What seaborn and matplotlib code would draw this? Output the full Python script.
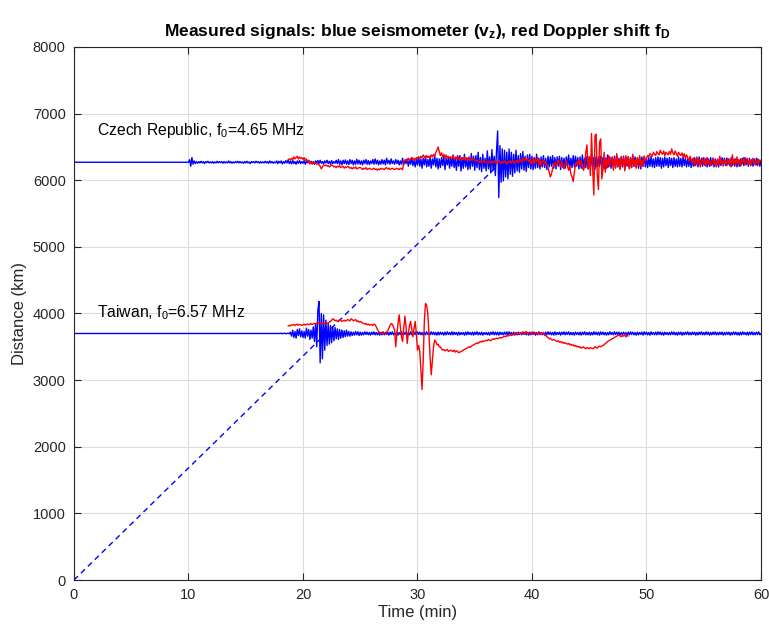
# Measured signals: seismometer (blue) and Doppler shift (red) at two stations
import numpy as np
import pandas as pd
import matplotlib
matplotlib.use("Agg")
import matplotlib.pyplot as plt
import seaborn as sns

# Station distances (km) where the traces are drawn
czech_dist = 6270
taiwan_dist = 3700

# Labels
czech_label = "Czech Republic, f$_0$=4.65 MHz"
taiwan_label = "Taiwan, f$_0$=6.57 MHz"
title = "Measured signals: blue seismometer (v$_z$), red Doppler shift f$_D$"

# Dashed propagation line (time in min, distance in km)
wave_t = [0.0, 37.0]
wave_d = [0, 6220]

# Blue seismometer, Czech Republic: offsets (km) every 0.1 min from 10.0 to 60.0
blue_czech_start = 10.0
blue_czech = [
    0, 40, -60, 70, -30, 20, -20, 10, -15, 10,          # 10
    -10, 15, -10, 10, -20, 10, -5, 15, -10, 5,          # 11
    -10, 10, -15, 5, -10, 15, -10, 10, -5, 10,          # 12
    -15, 10, -10, 5, -10, 20, -10, 10, -15, 5,          # 13
    -10, 10, -5, 15, -10, 10, -10, 5, -15, 10,          # 14
    -10, 15, -10, 5, -20, 10, -5, 10, -10, 15,          # 15
    -5, 10, -15, 10, -10, 5, -10, 15, -10, 10,          # 16
    -15, 20, -10, 10, -15, 5, -10, 20, -20, 15,         # 17
    -10, 20, -25, 10, -15, 25, -10, 30, -20, 15,        # 18
    -25, 30, -20, 10, -30, 20, -15, 25, -20, 10,        # 19
    -15, 25, -30, 20, -10, 30, -25, 15, -20, 10,        # 20
    -30, 20, -10, 25, -20, 30, -15, 10, -25, 20,        # 21
    -10, 30, -20, 15, -30, 25, -20, 10, -15, 30,        # 22
    -20, 40, -30, 20, -40, 30, -20, 35, -30, 20,        # 23
    -35, 40, -20, 30, -40, 20, -30, 45, -25, 30,        # 24
    -30, 20, -40, 30, -20, 40, -30, 25, -35, 20,        # 25
    -20, 40, -30, 50, -25, 30, -40, 20, -30, 40,        # 26
    -25, 30, -40, 60, -20, 30, -30, 50, -20, 20,        # 27
    -30, 40, -20, 30, -40, 20, -30, 60, -40, 30,        # 28
    -20, 50, -60, 40, -30, 70, -50, 30, -70, 40,        # 29
    -40, 80, -60, 50, -90, 60, -40, 90, -70, 40,        # 30
    -60, 80, -90, 50, -40, 100, -70, 60, -100, 50,      # 31
    -80, 70, -50, 90, -110, 60, -40, 80, -90, 70,       # 32
    -60, 110, -80, 50, -120, 90, -60, 100, -130, 70,    # 33
    -90, 120, -70, 60, -110, 80, -100, 130, -60, 90,    # 34
    -120, 100, -80, 150, -110, 70, -140, 120, -90, 60,  # 35
    -130, 170, -100, 80, -160, 190, -120, 90, -200, 160,  # 36
    470, -530, 250, -300, 200, -280, 180, -220, 150, -250,  # 37
    200, -180, 150, -210, 120, -160, 180, -130, 100, -150,  # 38
    130, -100, 160, -120, 90, -140, 110, -80, 120, -100,    # 39
    90, -110, 70, -90, 120, -80, 60, -100, 80, -70,     # 40
    100, -80, 60, -110, 90, -70, 80, -60, 100, -90,     # 41
    70, -100, 80, -60, 90, -110, 70, -80, 60, -90,      # 42
    80, -70, 110, -90, 60, -80, 100, -70, 90, -60,      # 43
    70, -100, 80, -90, 110, -70, 60, -80, 90, -100,     # 44
    80, -60, 100, -90, 70, -110, 90, -70, 80, -60,      # 45
    90, -80, 70, -100, 60, -90, 110, -70, 80, -90,      # 46
    70, -60, 90, -80, 100, -70, 60, -90, 80, -70,       # 47
    90, -100, 70, -60, 80, -90, 70, -80, 100, -60,      # 48
    80, -70, 60, -90, 70, -100, 80, -60, 90, -70,       # 49
    60, -80, 70, -60, 90, -70, 50, -80, 70, -60,        # 50
    80, -60, 70, -90, 60, -70, 80, -50, 60, -80,        # 51
    70, -50, 60, -80, 70, -60, 50, -70, 80, -60,        # 52
    60, -70, 80, -50, 60, -70, 50, -60, 70, -80,        # 53
    50, -60, 70, -50, 60, -70, 80, -50, 60, -60,        # 54
    70, -50, 60, -70, 50, -60, 70, -50, 60, -70,        # 55
    50, -60, 40, -70, 60, -50, 70, -40, 60, -50,        # 56
    60, -40, 50, -60, 70, -50, 40, -60, 50, -70,        # 57
    40, -60, 50, -40, 60, -50, 70, -40, 50, -60,        # 58
    60, -50, 40, -60, 50, -40, 60, -50, 40, -60,        # 59
    30,                                                 # 60
]

# Red Doppler shift, Czech Republic: offsets (km) every 0.1 min from 18.7 to 60.0
red_czech_start = 18.7
red_czech = [
    40, 50, 30,                                         # 18.7-18.9
    60, 40, 80, 50, 70, 90, 50, 80, 60, 70,             # 19
    40, 70, 30, 50, 10, 20, -20, 10, -30, 0,            # 20
    -20, -10, -30, -20, -40, -60, -100, -70, -40, -50,  # 21
    -40, -60, -50, -70, -60, -40, -50, -70, -60, -80,   # 22
    -60, -70, -50, -80, -70, -60, -90, -70, -80, -60,   # 23
    -70, -90, -80, -100, -80, -90, -70, -100, -90, -80,  # 24
    -80, -90, -110, -90, -100, -80, -110, -100, -90, -100,  # 25
    -110, -100, -90, -110, -100, -120, -100, -110, -90, -100,  # 26
    -100, -110, -90, -80, -100, -90, -110, -100, -90, -100,  # 27
    -110, -100, -90, -100, -110, -90, -100, -110, 10, 30,  # 28
    40, 20, 60, 30, 50, 70, 40, 60, 30, 70,             # 29
    50, 80, 60, 90, 70, 110, 80, 60, 100, 70,           # 30
    90, 60, 110, 80, 120, 90, 150, 180, 230, 160,       # 31
    100, 140, 80, 120, 60, 110, 70, 90, 50, 80,         # 32
    60, 90, 40, 80, 50, 100, 60, 30, 70, 40,            # 33
    50, 80, 30, 70, 40, 60, 20, 50, 30, 60,             # 34
    40, 20, 30, 10, 0, 20, -10, 10, 30, 0,              # 35
    -10, 10, 20, -20, 0, 10, -10, 20, 0, -20,           # 36
    10, 30, 0, -20, 10, -10, 20, 0, -30, 10,            # 37
    0, 20, -10, 30, 0, -20, 10, 30, -10, 20,            # 38
    40, 0, 60, 20, 70, 30, 50, 10, 40, -20,             # 39
    20, 60, -30, 50, 10, 70, -40, 30, -60, 20,          # 40
    30, -20, 10, -40, -80, -150, -220, -180, -90, -30,  # 41
    0, -60, -20, 40, -10, -70, 10, -40, -100, -30,      # 42
    20, -60, -120, -60, -180, -220, -290, -150, -40, 10,  # 43
    -30, 40, -60, 20, -80, -120, -50, 150, 260, -100,   # 44
    80, -200, 430, -100, -490, 400, 420, -200, -410, 300,  # 45
    350, -250, -100, 150, -150, 60, -80, 100, -60, 40,  # 46
    80, -120, 60, -90, 130, -60, 40, -110, 90, -50,     # 47
    70, -130, 100, -40, 80, -100, 60, -80, 120, -60,    # 48
    40, -90, 70, -50, 100, -70, 30, -60, 90, 20,        # 49
    60, 100, 80, 130, 110, 90, 150, 120, 100, 160,      # 50
    130, 110, 180, 140, 120, 170, 100, 150, 130, 110,   # 51
    160, 120, 200, 140, 110, 170, 130, 90, 150, 120,    # 52
    100, 140, 80, 130, 60, 110, 70, 20, 90, 40,         # 53
    -20, 60, -50, 30, 80, -40, 50, -70, 20, 60,         # 54
    -30, 40, -60, 70, -20, 30, -50, 10, 60, -40,        # 55
    20, -70, 50, -30, 90, -20, 30, -60, 40, -10,        # 56
    -50, 60, -20, 40, -70, 110, -30, 50, -40, 80,       # 57
    -20, 30, -60, 50, -10, 70, -40, 20, 60, -30,        # 58
    40, -50, 20, 60, -30, 10, -40, 50, -20, 30,         # 59
    20,                                                 # 60
]

# Blue seismometer, Taiwan: offsets (km) every 0.1 min from 18.0 to 60.0
blue_taiwan_start = 18.0
blue_taiwan = [
    0, 5, -5, 0, 5, -5, 0, 5, -5, 20,                   # 18
    -40, 50, -60, 30, -70, 60, -30, 70, -50, 40,        # 19
    -60, 30, -70, 80, -40, 60, -90, 50, -70, 100,       # 20
    -120, 150, -200, 350, 480, -440, 300, -380, 280, -250,  # 21
    200, -180, 150, -160, 120, -140, 100, -110, 90, -80,  # 22
    70, -90, 60, -70, 50, -60, 40, -50, 50, -40,        # 23
    30, -40, 25, -30, 20, -25, 30, -20, 25, -30,        # 24
    20, -25, 15, -20, 25, -15, 20, -20, 15, -25,        # 25
    20, -15, 25, -20, 15, -20, 20, -25, 15, -20,        # 26
    25, -20, 15, -15, 20, -25, 20, -15, 25, -20,        # 27
    15, -20, 20, -25, 15, -15, 25, -20, 20, -15,        # 28
    20, -25, 15, -20, 25, -20, 15, -15, 20, -25,        # 29
    25, -15, 20, -20, 15, -25, 20, -20, 25, -15,        # 30
    15, -20, 25, -15, 20, -20, 15, -25, 20, -20,        # 31
    20, -15, 15, -25, 20, -20, 25, -15, 15, -20,        # 32
    25, -20, 20, -15, 15, -25, 20, -20, 15, -15,        # 33
    15, -25, 20, -20, 25, -15, 15, -20, 20, -25,        # 34
    20, -15, 25, -20, 15, -20, 20, -25, 15, -15,        # 35
    15, -20, 15, -25, 20, -15, 25, -20, 20, -20,        # 36
    20, -25, 20, -15, 15, -20, 20, -15, 25, -20,        # 37
    25, -15, 15, -20, 20, -25, 15, -20, 20, -15,        # 38
    15, -20, 25, -15, 20, -20, 15, -25, 20, -20,        # 39
    20, -15, 20, -25, 15, -20, 25, -15, 15, -20,        # 40
    15, -25, 20, -20, 25, -15, 20, -20, 15, -25,        # 41
    25, -20, 15, -15, 20, -25, 20, -15, 25, -20,        # 42
    20, -15, 25, -20, 15, -20, 15, -25, 20, -15,        # 43
    15, -20, 20, -25, 20, -15, 25, -20, 15, -20,        # 44
    20, -25, 15, -20, 25, -15, 20, -20, 20, -25,        # 45
    25, -15, 20, -20, 15, -25, 15, -20, 25, -15,        # 46
    15, -20, 25, -15, 20, -20, 20, -25, 15, -20,        # 47
    20, -15, 15, -25, 20, -20, 25, -15, 20, -20,        # 48
    15, -25, 20, -20, 15, -15, 20, -25, 25, -15,        # 49
    20, -20, 15, -25, 25, -15, 15, -20, 20, -20,        # 50
    25, -15, 20, -20, 15, -25, 20, -15, 15, -20,        # 51
    15, -20, 25, -15, 20, -20, 15, -25, 20, -15,        # 52
    20, -25, 15, -20, 20, -15, 25, -20, 15, -20,        # 53
    20, -15, 20, -25, 15, -20, 20, -15, 25, -20,        # 54
    15, -20, 25, -15, 20, -25, 15, -20, 20, -15,        # 55
    25, -20, 15, -20, 20, -15, 20, -25, 15, -20,        # 56
    20, -15, 20, -25, 15, -20, 25, -15, 20, -20,        # 57
    15, -25, 20, -20, 25, -15, 15, -20, 20, -25,        # 58
    20, -15, 25, -20, 15, -20, 20, -15, 25, -20,        # 59
    0,                                                  # 60
]

# Red Doppler shift, Taiwan: offsets (km) every 0.1 min from 18.7 to 48.4
red_taiwan_start = 18.7
red_taiwan = [
    110, 120, 115,                                      # 18.7-18.9
    130, 125, 135, 120, 130, 140, 125, 135, 130, 120,   # 19
    130, 140, 125, 135, 145, 130, 140, 150, 135, 145,   # 20
    150, 140, 155, 145, 160, 150, 140, 155, 150, 145,   # 21
    150, 160, 155, 170, 180, 200, 220, 210, 190, 200,   # 22
    180, 190, 210, 200, 180, 190, 200, 185, 195, 210,   # 23
    200, 190, 220, 210, 190, 200, 210, 180, 190, 170,   # 24
    180, 170, 160, 150, 140, 150, 130, 140, 125, 135,   # 25
    130, 120, 140, 130, 100, 60, 30, 10, 0, 20,         # 26
    0, 10, -10, 20, 40, 80, 120, 150, 140, 100,         # 27
    50, -200, 0, 150, 280, 100, -50, -120, 80, 260,     # 28
    100, -150, 0, 120, 180, 60, -50, 80, 180, 0,        # 29
    -250, -180, -270, -550, -840, -400, 200, 450, 420, 300,  # 30
    0, -350, -620, -400, -200, -100, -120, -170, -160, -200,  # 31
    -200, -230, -250, -240, -260, -250, -240, -270, -260, -250,  # 32
    -260, -270, -250, -280, -260, -270, -290, -280, -270, -260,  # 33
    -250, -240, -230, -220, -210, -200, -210, -190, -180, -170,  # 34
    -160, -150, -140, -150, -130, -120, -130, -110, -120, -110,  # 35
    -100, -110, -90, -100, -110, -90, -80, -90, -80, -70,  # 36
    -80, -70, -60, -70, -60, -50, -40, -50, -30, -40,   # 37
    -30, -20, -30, -10, -20, 0, -10, 10, -10, 0,        # 38
    10, 0, 20, -10, 10, 30, 0, 10, -10, 10,             # 39
    0, 20, 0, 10, -10, 0, 10, -20, 0, -10,              # 40
    10, -20, -30, -50, -60, -80, -70, -90, -100, -90,   # 41
    -100, -110, -120, -110, -130, -120, -140, -130, -150, -140,  # 42
    -150, -160, -150, -170, -160, -180, -170, -190, -180, -200,  # 43
    -190, -210, -200, -220, -210, -200, -220, -230, -210, -220,  # 44
    -230, -210, -220, -230, -220, -200, -210, -220, -200, -190,  # 45
    -200, -190, -180, -170, -150, -140, -120, -110, -100, -90,  # 46
    -80, -70, -60, -50, -40, -30, -20, -40, -50, -30,   # 47
    -40, -20, -50, -30, -40,                            # 48.0-48.4
]


def trace(start, offsets, base, lead_in=False):
    t = np.round(start + np.arange(len(offsets)) * 0.1, 1)
    d = base + np.array(offsets, dtype=float)
    if lead_in:
        # quiet baseline from t=0 until the record starts
        t = np.concatenate([[0.0], t])
        d = np.concatenate([[base], d])
    return pd.DataFrame({"time": t, "dist": d})


df_blue_cz = trace(blue_czech_start, blue_czech, czech_dist, lead_in=True)
df_red_cz = trace(red_czech_start, red_czech, czech_dist)
df_blue_tw = trace(blue_taiwan_start, blue_taiwan, taiwan_dist, lead_in=True)
df_red_tw = trace(red_taiwan_start, red_taiwan, taiwan_dist)
df_wave = pd.DataFrame({"time": wave_t, "dist": wave_d})

sns.set_style("ticks")
plt.rcParams["font.family"] = ["Liberation Sans", "DejaVu Sans"]
plt.rcParams["mathtext.fontset"] = "custom"
plt.rcParams["mathtext.rm"] = "Liberation Sans"
plt.rcParams["mathtext.it"] = "Liberation Sans"
plt.rcParams["mathtext.bf"] = "Liberation Sans:bold"
plt.rcParams["mathtext.default"] = "regular"

fig = plt.figure(figsize=(7.69, 6.29), dpi=100)
ax = fig.add_axes([0.0962, 0.0779, 0.8934, 0.8474])

dark = "#262626"
sns.lineplot(data=df_wave, x="time", y="dist", ax=ax, color="blue", lw=1.0,
             linestyle=(0, (4, 3)), estimator=None, sort=False)
sns.lineplot(data=df_blue_tw, x="time", y="dist", ax=ax, color="blue", lw=1.0,
             estimator=None, sort=False)
sns.lineplot(data=df_red_tw, x="time", y="dist", ax=ax, color="red", lw=1.0,
             estimator=None, sort=False)
sns.lineplot(data=df_blue_cz, x="time", y="dist", ax=ax, color="blue", lw=1.0,
             estimator=None, sort=False)
sns.lineplot(data=df_red_cz, x="time", y="dist", ax=ax, color="red", lw=1.0,
             estimator=None, sort=False)

ax.text(2, 6740, czech_label, fontsize=11.3, color="black", va="center")
ax.text(2, 4010, taiwan_label, fontsize=11.3, color="black", va="center")

ax.set_xlim(0, 60)
ax.set_ylim(0, 8000)
ax.set_xticks(range(0, 61, 10))
ax.set_yticks(range(0, 8001, 1000))
ax.grid(True, color="#dcdcdc", lw=0.8)
ax.set_axisbelow(True)
ax.tick_params(direction="in", length=5, width=0.8, colors=dark,
               labelsize=10.5, top=True, right=True, pad=6)
for s in ax.spines.values():
    s.set_visible(True)
    s.set_color(dark)
    s.set_linewidth(0.8)

ax.set_xlabel("Time (min)", fontsize=12, color=dark, labelpad=2)
ax.set_ylabel("Distance (km)", fontsize=12, color=dark, labelpad=4)
ax.set_title(title, fontsize=12.5, fontweight="bold", color="black", pad=8)

fig.savefig("out.png", dpi=100)
